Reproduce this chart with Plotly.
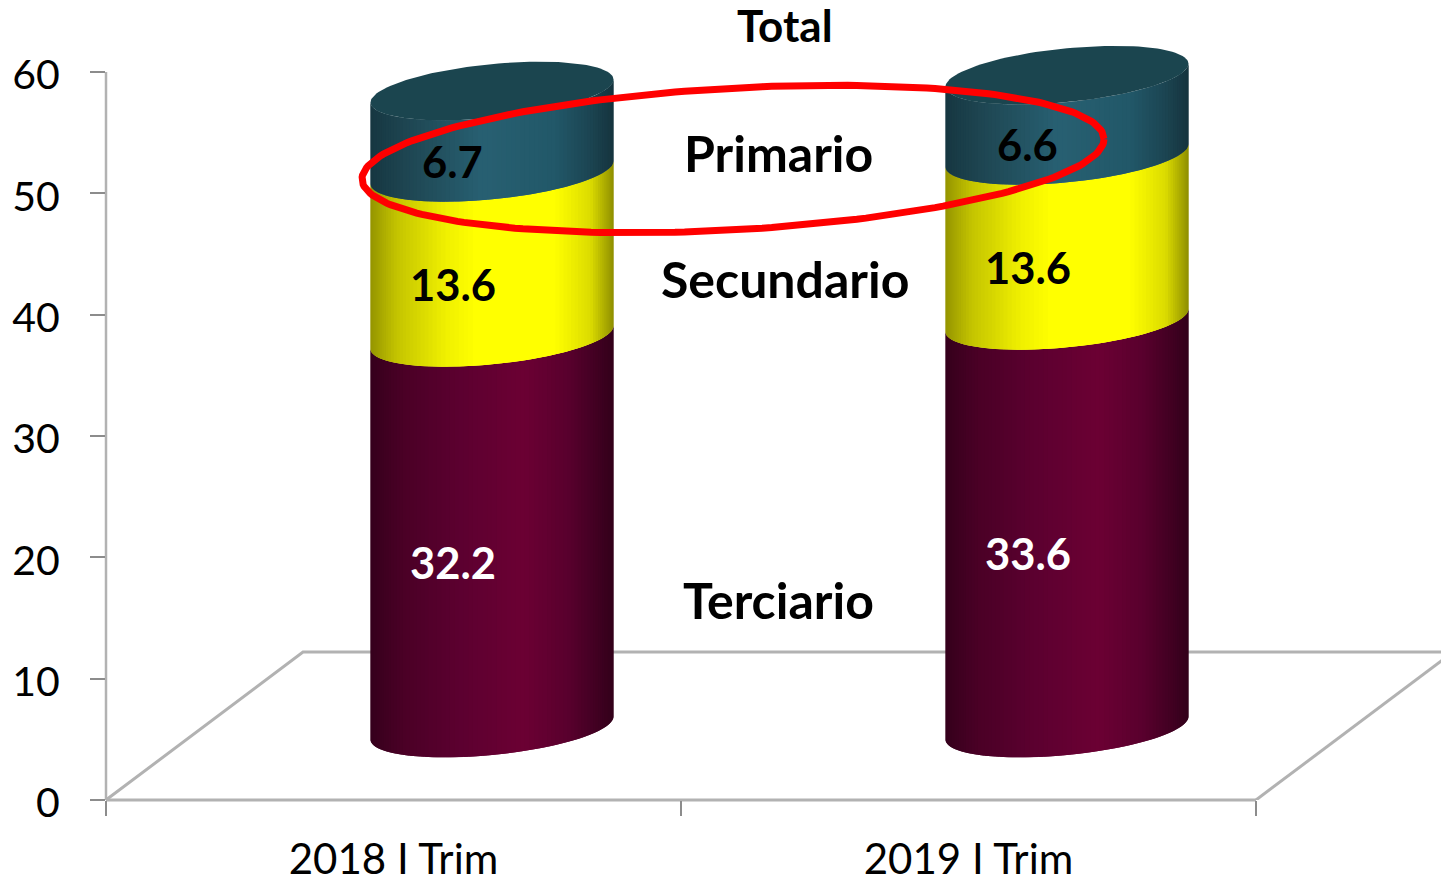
import numpy as np
import plotly.graph_objects as go

# ---- data
categories = ["2018 I Trim", "2019 I Trim"]
terciario = [32.2, 33.6]
secundario = [13.6, 13.6]
primario = [6.7, 6.6]
y_ticks = [0, 10, 20, 30, 40, 50, 60]
series_names = ["Terciario", "Secundario", "Primario"]

# ---- geometry of the pseudo-3D look (plot units)
W, H = 1441, 883
PLOT_L, PLOT_B = 106, 83
PX_X = 575.0            # px per category
PX_Y = 728.0 / 60       # px per y unit
X_MAX = (W - PLOT_L) / PX_X
Y_MAX = (H - PLOT_B) / PX_Y
DEPTH_X, DEPTH_Y = 197 / PX_X, 148 / PX_Y
CYL_DX = 98.5 / PX_X
CYL_BASE = 72 / PX_Y
CYL_A = 121.5 / PX_X
CYL_S = 11.5 / PX_Y     # rise of the ellipse across its width
CYL_B = 27.0 / PX_Y     # half height of the ellipse
N = 80
GREY = "#b2b2b2"
TICK = "#8c8c8c"
FONT = "Lato"

ramps = {
    "Terciario": [(0, "#36001d"), (.12, "#4a0026"), (.35, "#5c0030"), (.62, "#6c0034"), (.8, "#5a002e"), (1, "#33001b")],
    "Secundario": [(0, "#969600"), (.1, "#c4c400"), (.3, "#f0f000"), (.42, "#ffff00"), (.75, "#ffff00"), (.9, "#dcdc00"), (1, "#8e8e00")],
    "Primario": [(0, "#173842"), (.15, "#1f4753"), (.45, "#286072"), (.75, "#225869"), (.9, "#1c4552"), (1, "#16343e")],
}
TOP_FACE = "#1b454f"


def ramp_color(name, f):
    stops = ramps[name]
    fs = [s[0] for s in stops]
    rgb = [[int(s[1][i:i + 2], 16) for i in (1, 3, 5)] for s in stops]
    return "rgb(%d,%d,%d)" % tuple(np.interp(f, fs, [c[k] for c in rgb]) for k in range(3))


fig = go.Figure()


def line(xs, ys, color=GREY, width=3):
    fig.add_trace(go.Scatter(x=xs, y=ys, mode="lines", line=dict(color=color, width=width),
                             hoverinfo="skip", showlegend=False))


# floor edges
line([0, DEPTH_X, X_MAX], [0, DEPTH_Y, DEPTH_Y])
line([2, 2 + DEPTH_X], [0, DEPTH_Y])

theta = np.linspace(0, np.pi, N + 1)
us = -np.cos(theta)

for i in range(len(categories)):
    cx = i + 0.5 + CYL_DX
    base = CYL_BASE
    for name, vals in zip(series_names, (terciario, secundario, primario)):
        v = vals[i]
        for k in range(N):
            # each strip runs one step into the next, so no seam shows
            u = us[k:min(k + 3, N + 1)]
            xs = cx + CYL_A * u
            arc = CYL_S * u - CYL_B * np.sqrt(np.maximum(1 - u ** 2, 0))
            fig.add_trace(go.Scatter(
                x=np.r_[xs, xs[::-1]], y=np.r_[base + arc, (base + v + arc)[::-1]],
                mode="lines", fill="toself", line=dict(width=0),
                fillcolor=ramp_color(name, (us[k] + 1) / 2),
                hoverinfo="skip", showlegend=False))
        base += v
    t = np.linspace(0, 2 * np.pi, 121)
    fig.add_trace(go.Scatter(
        x=cx + CYL_A * np.cos(t), y=base + CYL_S * np.cos(t) + CYL_B * np.sin(t),
        mode="lines", fill="toself", line=dict(width=0), fillcolor=TOP_FACE,
        hoverinfo="skip", showlegend=False))

# red ring around Primario
t = np.linspace(0, 2 * np.pi, 241)
RX, RY = (733 - PLOT_L) / PX_X, (H - PLOT_B - 159) / PX_Y
fig.add_trace(go.Scatter(
    x=RX + 371 / PX_X * np.cos(t),
    y=RY + 20 / PX_Y * np.cos(t) + 71 / PX_Y * np.sin(t),
    mode="lines", line=dict(color="#ff0000", width=7), hoverinfo="skip", showlegend=False))

annotations = []
LABEL_DX, LABEL_DY = 0.103, -2.4
for i in range(len(categories)):
    base = CYL_BASE
    for vals, col in ((terciario, "white"), (secundario, "black"), (primario, "black")):
        v = vals[i]
        annotations.append(dict(x=i + 0.5 + LABEL_DX, y=base + v / 2 + LABEL_DY, text=f"{v:.1f}",
                                showarrow=False, font=dict(family=FONT, size=43.5, color=col, weight="bold")))
        base += v

# series names and the total label, between the cylinders
names_at = [("Primario", 778, 153, 50), ("Secundario", 785, 279, 50), ("Terciario", 778, 600, 50), ("Total", 785, 25, 44)]
for text, px, py, size in names_at:
    annotations.append(dict(x=(px - PLOT_L) / PX_X, y=(H - PLOT_B - py) / PX_Y, text=text,
                            showarrow=False, font=dict(family=FONT, size=size, color="black", weight="bold")))

# axis lines stop at the last tick; paper references keep them unclipped
axis_lines = [
    dict(type="line", xref="paper", yref="paper", x0=0, x1=2 / X_MAX, y0=0, y1=0,
         line=dict(color=GREY, width=3), layer="below"),
    dict(type="line", xref="paper", yref="paper", x0=0, x1=0, y0=0, y1=60 / Y_MAX,
         line=dict(color=GREY, width=2.5), layer="below"),
]

fig.update_layout(
    width=W, height=H, autosize=False,
    margin=dict(l=PLOT_L, r=0, t=0, b=PLOT_B, pad=0),
    paper_bgcolor="white", plot_bgcolor="white", showlegend=False,
    annotations=annotations, shapes=axis_lines,
    font=dict(family=FONT, color="black", size=40),
    xaxis=dict(range=[0, X_MAX], tickmode="array", tickvals=[0.5, 1.5], ticktext=categories,
               automargin=False,
               showgrid=False, zeroline=False, showline=False, ticks="", ticklabelstandoff=31,
               tickfont=dict(family=FONT, size=42, color="black"),
               minor=dict(tickmode="array", tickvals=[0, 1, 2], ticks="outside", ticklen=15, tickwidth=2,
                          tickcolor=TICK, showgrid=False)),
    yaxis=dict(range=[0, Y_MAX], tickmode="array", tickvals=y_ticks, showgrid=False, zeroline=False,
               automargin=False,
               showline=False, ticks="outside", ticklen=15, tickwidth=2, tickcolor=TICK,
               ticklabelstandoff=22, ticklabelshift=3,
               tickfont=dict(family=FONT, size=41, color="black")),
)

fig.write_html("out.html", config={"displayModeBar": False},
               post_script="document.body.style.margin='0';document.body.style.overflow='hidden';")
